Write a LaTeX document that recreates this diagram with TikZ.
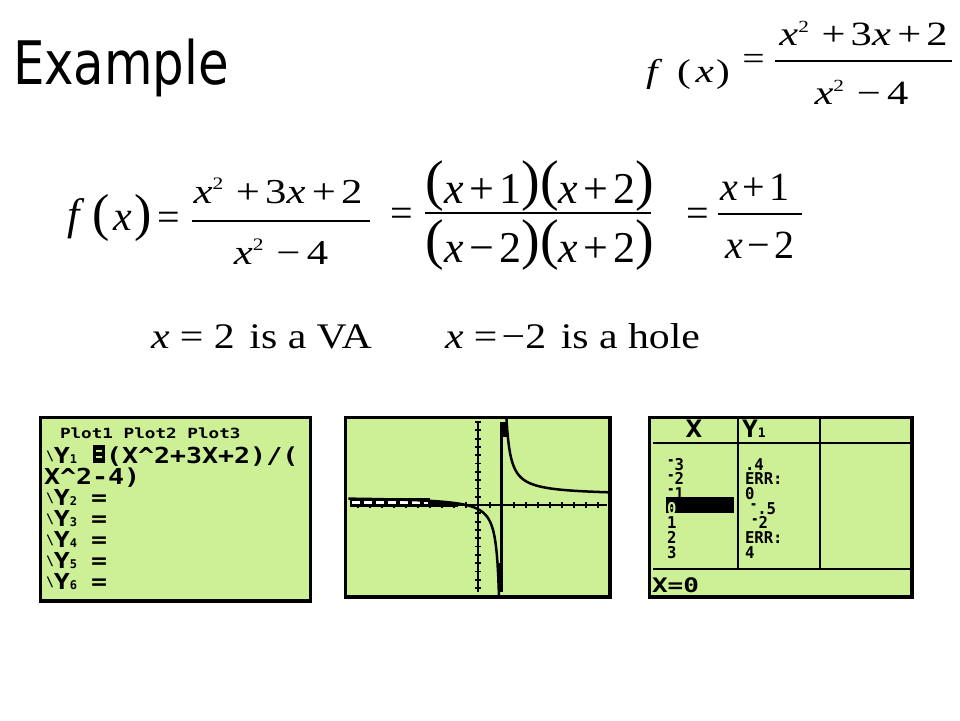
\documentclass[tikz,border=0pt]{standalone}
\usepackage{fontspec}
\usepackage{graphicx}
\setmainfont{Liberation Serif}
\newfontfamily\titlefont{DejaVu Sans}
\newfontfamily\calcfont{DejaVu Sans Mono}
\definecolor{lcd}{RGB}{205,240,150}
\newcommand{\fs}[1]{\fontsize{#1}{#1}\selectfont}
\newcommand{\sx}[2]{\scalebox{#1}[1]{#2}}
\newcommand{\vx}{\textit{x}}
\newcommand{\vf}{\textit{f}}
\newcommand{\sq}{\raisebox{0.38em}{\scalebox{0.5}{2}}}
\newcommand{\pp}[1]{\raisebox{4pt}{\fs{56}#1}}
\newcommand{\cw}[1]{\scalebox{1.21}[1]{#1}}
\newcommand{\Yl}[1]{{\fs{13}\raisebox{3pt}{\textbackslash}}\cw{Y}{\fs{12}#1}}
\newcommand{\mn}{\smash{\raisebox{3.5pt}{\scalebox{0.8}[1]{-}}}}
\newcommand{\tv}[1]{\scalebox{1.2}[1.25]{#1}}
\begin{document}
\begin{tikzpicture}[x=1pt,y=-1pt,
  every node/.style={inner sep=0pt,outer sep=0pt},
  calc/.style={font=\calcfont\bfseries\fs{22},text height=16pt,text depth=1pt},
  small/.style={font=\calcfont\bfseries\fs{13},text height=12pt,text depth=0pt},
  fracbar/.style={line width=1.8pt},
  screen/.style={fill=lcd,draw=black,line width=3.5pt},
  lcdline/.style={line width=2.2pt}]
\useasboundingbox (0,0) rectangle (960,720);
\fill[white] (0,0) rectangle (960,720);

% title
\node[anchor=base west,font=\titlefont\fs{60}] (title) at (13,84) {\sx{0.83}{Example}};

% equation 1 (top right)
\node[anchor=base west,font=\fs{33}] (f1) at (646,82) {\sx{1.25}{\vf}};
\node[anchor=base west,font=\fs{33}] (fx1) at (677,82) {\sx{1.25}{(\hspace{0.12em}\vx\hspace{0.05em})}};
\node[font=\fs{33}] (eq1) at (753.5,62) {\sx{1.2}{=}};
\draw[fracbar] (775,61) -- (952,61);
\node[anchor=base,font=\fs{34}] (n1) at (863.5,45) {\sx{1.25}{\vx\sq\hspace{.3em}+\hspace{.12em}3\vx\hspace{.15em}+\hspace{.12em}2}};
\node[anchor=base,font=\fs{34}] (d1) at (861.5,104) {\sx{1.25}{\vx\sq\hspace{.3em}−\hspace{.15em}4}};

% equation 2
\node[anchor=base west,font=\fs{44}] (f2) at (67,229) {\vf};
\node[anchor=base west,font=\fs{42}] (fx2) at (92,230) {{\fs{52}(}\hspace{0.1em}\vx\hspace{0.05em}{\fs{52})}};
\node[font=\fs{40}] (eq2) at (168.5,221) {=};
\draw[fracbar] (192,221) -- (370,221);
\node[anchor=base,font=\fs{35}] (n2) at (278,203) {\sx{1.22}{\vx\sq\hspace{.3em}+\hspace{.12em}3\vx\hspace{.15em}+\hspace{.12em}2}};
\node[anchor=base,font=\fs{35}] (d2) at (281,264) {\sx{1.22}{\vx\sq\hspace{.3em}−\hspace{.15em}4}};
\node[font=\fs{40}] (eq3) at (401.5,217) {=};
\draw[fracbar] (425,213) -- (651,213);
\node[anchor=base,font=\fs{44}] (n3) at (540,203) {\pp{(}\vx\hspace{.12em}+\hspace{.12em}1\pp{)}\pp{(}\vx\hspace{.12em}+\hspace{.12em}2\pp{)}};
\node[anchor=base,font=\fs{44}] (d3) at (540,262) {\pp{(}\vx\hspace{.12em}−\hspace{.12em}2\pp{)}\pp{(}\vx\hspace{.12em}+\hspace{.12em}2\pp{)}};
\node[font=\fs{40}] (eq4) at (697.5,217) {=};
\draw[fracbar] (718,214) -- (802,214);
\node[anchor=base,font=\fs{40}] (n4) at (755,200) {\vx\hspace{.12em}+\hspace{.12em}1};
\node[anchor=base,font=\fs{40}] (d4) at (760,258) {\vx\hspace{.12em}−\hspace{.12em}2};

% line 3
\node[anchor=base west,font=\fs{36}] (va) at (151,348) {\sx{1.16}{\vx\hspace{.25em}=\hspace{.25em}2\hspace{.35em}is a VA}};
\node[anchor=base west,font=\fs{36}] (hole) at (445,348) {\sx{1.16}{\vx\hspace{.25em}=\hspace{.1em}−2\hspace{.35em}is a hole}};

% screen 1 : Y= editor
\draw[screen] (40.5,417.5) rectangle (310.5,601);
\node[calc,anchor=base west,text height=11pt] (plots) at (60,438) {\fs{14}\scalebox{1.26}[1]{Plot1 Plot2 Plot3}};
\node[calc,anchor=base west] (y1l) at (46,463) {\Yl{1}};
\fill (93,445) rectangle (105,463);
\draw[lcd,line width=1.8pt] (96,451) -- (102,451) (96,457) -- (102,457);
\node[calc,anchor=base west] (y1e) at (106,463) {\cw{(X\textasciicircum 2+3X+2)/(}};
\node[calc,anchor=base west] (y1c) at (44,484) {\cw{X\textasciicircum 2-4)}};
\foreach \n/\yy in {2/505,3/526,4/547,5/568,6/589}{
  \node[calc,anchor=base west] (yl\n) at (46,\yy) {\Yl{\n}};
  \node[calc,anchor=base west] (ye\n) at (91,\yy) {\cw{=}};
}

% screen 2 : graph
\draw[screen] (345.5,417.5) rectangle (610,597);
\begin{scope}
\clip (347.5,419.5) rectangle (608,595);
\draw[lcdline] (350,505) -- (607,505);
\draw[lcdline] (478,422) -- (478,592);
\foreach \i in {-10,...,10}{\draw[line width=2pt] ({478+12*\i},502) -- ({478+12*\i},508);}
\foreach \j in {-10,...,10}{\draw[line width=1.8pt] (475,{505-8.3*\j}) -- (481,{505-8.3*\j});}
\fill (350,498) rectangle (430,507);
\draw[white,line width=2.2pt,dash pattern=on 8pt off 4pt] (352,502.5) -- (428,502.5);
\fill (430,502) rectangle (458,507);
\draw[line width=2.5pt] plot[domain=2.3:10.9,samples=120] ({478+12*\x},{505-9.5*(\x+1)/(\x-2)});
\draw[line width=2.5pt] plot[domain=-10.8:1.75,samples=200] ({478+12*\x},{505-8.3*(\x+1)/(\x-2)});
\draw[lcdline] (501.5,422) -- (501.5,592);
\fill (498,563) rectangle (503,592);
\fill (503,422) rectangle (508,437);
\end{scope}

% screen 3 : table
\draw[screen] (649.5,417.5) rectangle (912,597);
\draw[lcdline] (653,443) -- (910,443);
\draw[lcdline] (653,569) -- (910,569);
\draw[lcdline] (738,419) -- (738,569);
\draw[lcdline] (820,419) -- (820,569);
\node[calc,anchor=base] (hx) at (694,437) {\fs{24}\scalebox{1.15}[1]{X}};
\node[calc,anchor=base west] (hy) at (742,437) {\fs{24}\scalebox{1.1}[1]{Y}\fs{13}1};
\fill (666,497) rectangle (734,513);
\foreach \v/\w [count=\i] in {\mn3/.4,\mn2/ERR:,\mn1/0,{\color{lcd}0}/\hspace{4pt}\mn.5,1/\hspace{5pt}\mn2,2/ERR:,3/4}{
  \node[small,anchor=base west] (xc\i) at (667,{470+14.67*(\i-1)}) {\tv{\v}};
  \node[small,anchor=base west] (yc\i) at (745,{470+14.67*(\i-1)}) {\tv{\w}};
}
\node[calc,anchor=base west,text height=15pt] (xeq) at (652,592) {\fs{20}\scalebox{1.3}[1]{X=0}};
\end{tikzpicture}
\end{document}
